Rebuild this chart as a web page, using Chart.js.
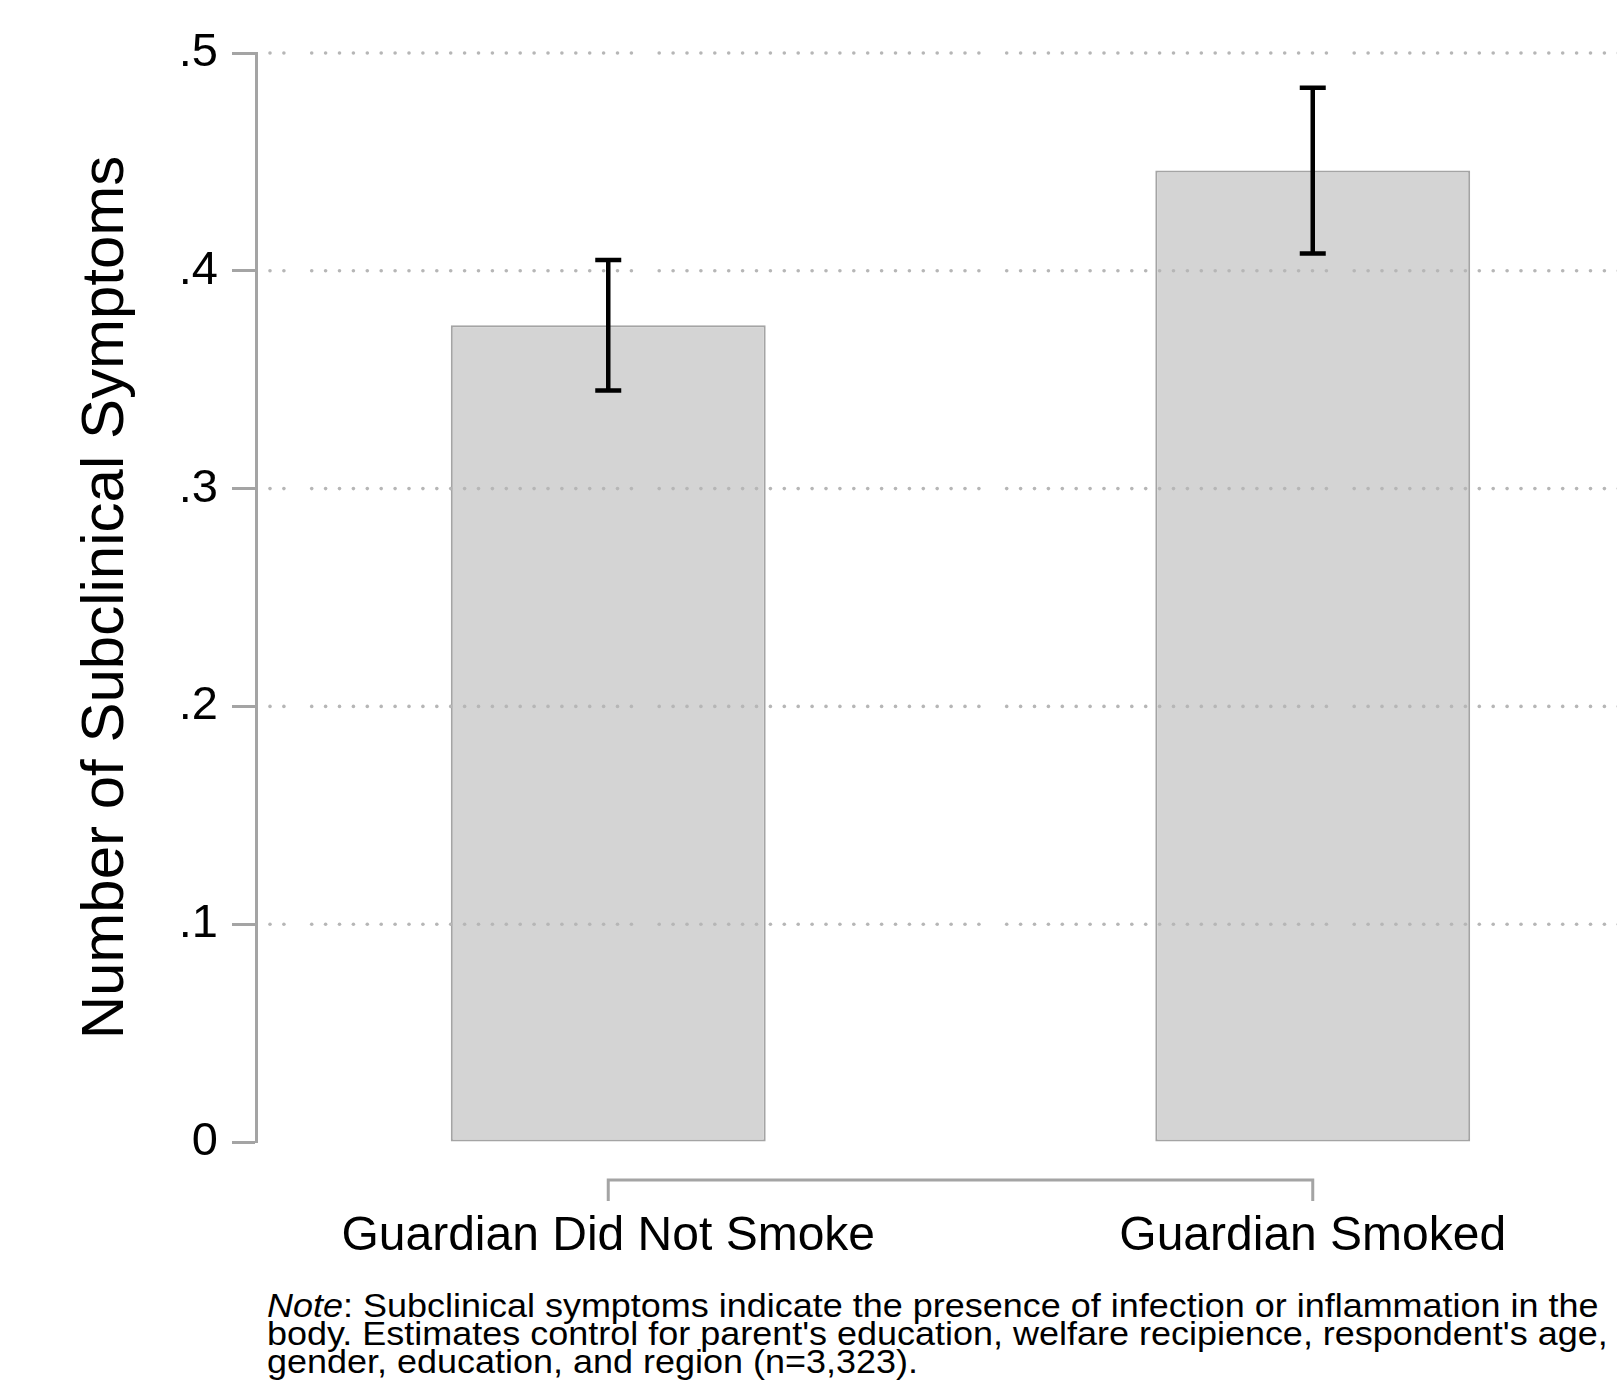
<!DOCTYPE html>
<html>
<head>
<meta charset="utf-8">
<script src="https://cdn.jsdelivr.net/npm/chart.js@4/dist/chart.umd.min.js"></script>
<style>
  html, body { margin: 0; padding: 0; background: #fff; overflow: hidden; }
  #wrap { position: absolute; left: 0; top: 0; width: 1700px; height: 1280px; }
  #note {
    position: absolute; left: 267px; top: 1292px;
    font-family: "Liberation Sans", Arial, Helvetica, sans-serif;
    font-size: 33px; line-height: 27.8px; color: #000; white-space: nowrap;
    transform: scaleX(1.09); transform-origin: 0 0;
  }
</style>
</head>
<body>
<div id="wrap"><canvas id="chart" width="1700" height="1280" style="width:1700px;height:1280px"></canvas></div>
<div id="note"><em>Note</em>: Subclinical symptoms indicate the presence of infection or inflammation in the<br>body. Estimates control for parent's education, welfare recipience, respondent's age,<br>gender, education, and region (n=3,323).</div>
<script>
// Adjusted mean number of subclinical symptoms with 95% confidence intervals
const categories = ['Guardian Did Not Smoke', 'Guardian Smoked'];
const means = [0.375, 0.446];
const ciLow = [0.345, 0.408];
const ciHigh = [0.405, 0.484];
const yTickValues = [0, 0.1, 0.2, 0.3, 0.4, 0.5];

const FONT = '"Liberation Sans", Arial, Helvetica, sans-serif';
const AXIS_GREY = '#a4a4a4';

function fmtTick(v) {
  if (Math.abs(v) < 1e-9) return '0';
  return v.toFixed(1).replace(/^0\./, '.');
}

// Dotted horizontal grid, drawn over the bars, plus the CI whiskers
const overlay = {
  id: 'overlay',
  afterDatasetsDraw(chart) {
    const ctx = chart.ctx;
    const x = chart.scales.x, y = chart.scales.y;
    const area = chart.chartArea;
    ctx.save();
    ctx.fillStyle = '#b6b6b6';
    yTickValues.forEach(v => {
      if (v <= 0) return;
      const py = y.getPixelForValue(v);
      for (let i = 0; ; i++) {
        const px = area.left + 14 + i * 13.9;
        if (px > chart.width) break;
        if (i % 25 === 2) continue;
        ctx.beginPath();
        ctx.arc(px, py, 1.8, 0, Math.PI * 2);
        ctx.fill();
      }
    });
    ctx.strokeStyle = '#000';
    ctx.lineWidth = 4.5;
    ctx.lineCap = 'butt';
    categories.forEach((c, i) => {
      const px = x.getPixelForValue(i);
      const yH = y.getPixelForValue(ciHigh[i]);
      const yL = y.getPixelForValue(ciLow[i]);
      ctx.beginPath();
      ctx.moveTo(px, yH); ctx.lineTo(px, yL);
      ctx.moveTo(px - 13, yH); ctx.lineTo(px + 13, yH);
      ctx.moveTo(px - 13, yL); ctx.lineTo(px + 13, yL);
      ctx.stroke();
    });
    ctx.restore();
  },
  // Category axis: a bracket spanning the categories, with labels below
  afterDraw(chart) {
    const ctx = chart.ctx;
    const x = chart.scales.x;
    const area = chart.chartArea;
    const lineY = area.bottom + 38;
    const tickLen = 21;
    const x0 = x.getPixelForValue(0);
    const x1 = x.getPixelForValue(categories.length - 1);
    ctx.save();
    ctx.strokeStyle = AXIS_GREY;
    ctx.lineWidth = 3;
    ctx.beginPath();
    ctx.moveTo(x0, lineY + tickLen); ctx.lineTo(x0, lineY);
    ctx.lineTo(x1, lineY); ctx.lineTo(x1, lineY + tickLen);
    ctx.stroke();
    ctx.fillStyle = '#000';
    ctx.font = '48px ' + FONT;
    ctx.textAlign = 'center';
    ctx.textBaseline = 'alphabetic';
    categories.forEach((c, i) => {
      ctx.fillText(c, x.getPixelForValue(i), area.bottom + 108);
    });
    ctx.restore();
  }
};

new Chart(document.getElementById('chart'), {
  type: 'bar',
  data: {
    labels: categories,
    datasets: [{
      data: means,
      backgroundColor: '#d4d4d4',
      borderColor: '#a4a4a4',
      borderWidth: 2,
      borderSkipped: false,
      barPercentage: 0.447,
      categoryPercentage: 1
    }]
  },
  options: {
    responsive: false,
    animation: false,
    devicePixelRatio: 1,
    layout: { padding: { top: 53, left: 0, right: 35, bottom: 138 } },
    plugins: { legend: { display: false }, tooltip: { enabled: false } },
    scales: {
      x: { display: false, offset: true },
      y: {
        min: 0, max: 0.5,
        afterBuildTicks(scale) { scale.ticks = yTickValues.map(v => ({ value: v })); },
        afterFit(scale) {
          scale.width = 256;
          scale.paddingTop = 0;
          scale.paddingBottom = 0;
        },
        border: { display: true, color: AXIS_GREY, width: 3 },
        grid: {
          drawOnChartArea: false, drawTicks: true,
          tickLength: 24, tickWidth: 3, tickColor: AXIS_GREY
        },
        ticks: {
          padding: 14, color: '#000',
          font: { family: FONT, size: 47 },
          callback: v => fmtTick(v)
        },
        title: {
          display: true, text: 'Number of Subclinical Symptoms',
          color: '#000', font: { family: FONT, size: 60 },
          padding: { top: 70, bottom: 0 }
        }
      }
    }
  },
  plugins: [overlay]
});
</script>
</body>
</html>
